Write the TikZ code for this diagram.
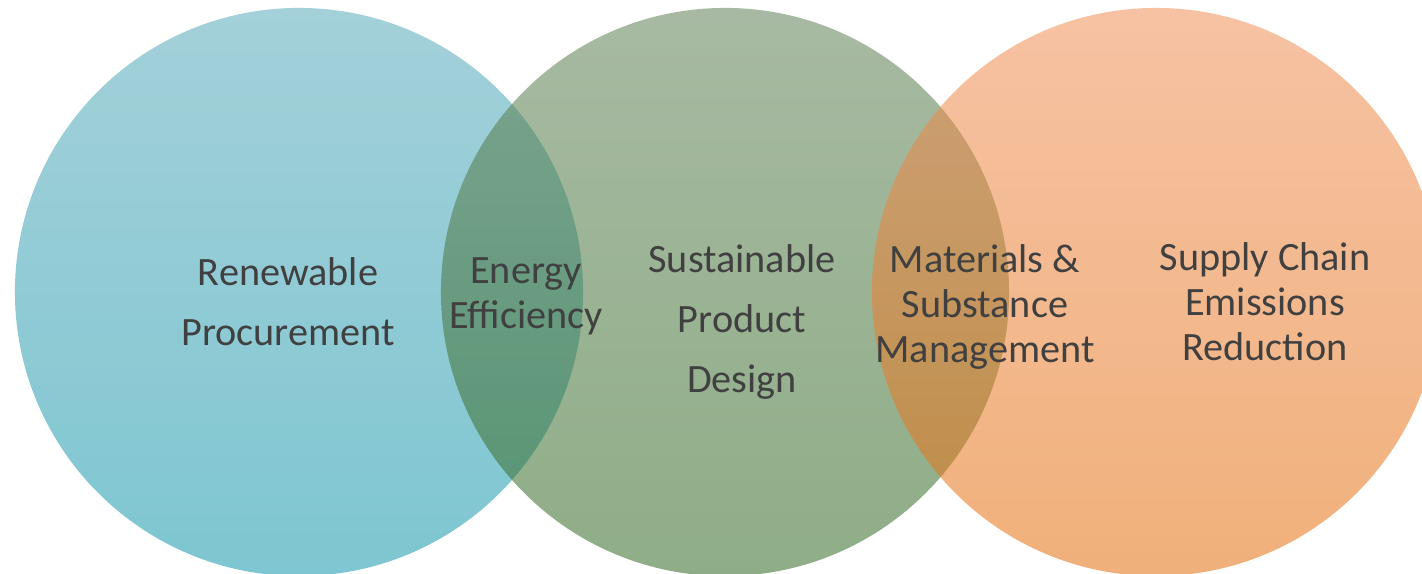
\documentclass[tikz,border=0pt]{standalone}
\usepackage{fontspec}
\setmainfont{Carlito}
\usepackage{tikz}
\definecolor{txtgray}{HTML}{404040}
\definecolor{tealtop}{RGB}{88,170,186}
\definecolor{tealmid}{RGB}{28,159,179}
\definecolor{tealbot}{RGB}{19,151,171}
\definecolor{sagetop}{RGB}{95,128,86}
\definecolor{sagemid}{RGB}{64,115,51}
\definecolor{sagebot}{RGB}{50,106,35}
\definecolor{peachtop}{RGB}{239,144,88}
\definecolor{peachmid}{RGB}{239,126,31}
\definecolor{peachbot}{RGB}{228,111,13}

\begin{document}
\begin{tikzpicture}[
  x=0.025cm, y=-0.025cm,
  ring/.style={fill opacity=0.55},
  lbl/.style={
    text=txtgray, align=center, inner sep=0pt,
    font=\fontsize{28.6pt}{42.7pt}\selectfont
  },
  tight/.style={font=\fontsize{28.6pt}{32pt}\selectfont}
]
  \useasboundingbox (0,0) rectangle (1422,573);
  \clip (0,0) rectangle (1422,573);
  \foreach \cx/\tp/\md/\bt in {299/tealtop/tealmid/tealbot,725/sagetop/sagemid/sagebot,1156/peachtop/peachmid/peachbot} {
    \shade[ring, top color=\tp, middle color=\md, bottom color=\bt] (\cx,292) circle[radius=7.1cm];
  }
  \node[lbl] (renew) at (288,302) {Renewable\\Procurement};
  \node[lbl, tight] (energy) at (526,296) {Energy\\Efficiency};
  \node[lbl] (sustain) at (742,322) {Sustainable\\Product\\Design};
  \node[lbl, tight] (material) at (985,307) {Materials \&\\Substance\\Management};
  \node[lbl, tight] (supply) at (1265,302) {Supply Chain\\Emissions\\Reduction};
\end{tikzpicture}
\end{document}
